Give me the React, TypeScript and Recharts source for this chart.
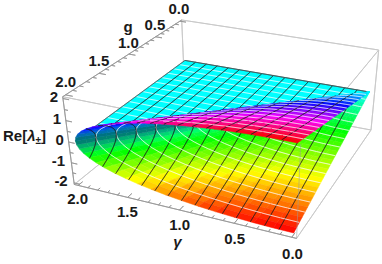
import React from "react";
import { ScatterChart, Scatter, XAxis, YAxis } from "recharts";

// mesh rings of the cone, values of g
const gValues = [
  0, 0.0625, 0.125, 0.1875, 0.25, 0.3125, 0.375, 0.4375, 0.5, 0.5625, 0.625, 0.6875, 0.75, 0.8125, 0.875, 0.9375, 1,
  1.0625, 1.125, 1.1875, 1.25, 1.3125, 1.375, 1.4375, 1.5, 1.5625, 1.625, 1.6875, 1.75, 1.8125, 1.875, 1.9375, 2,
];
// profile of the sheets: gamma / g and |Re lambda| / g along each ray
const gammaOverG = [1, 0.9962, 0.9848, 0.9659, 0.9397, 0.9063, 0.866, 0.8192, 0.766, 0.7071, 0.6428, 0.5736, 0.5, 0.4226, 0.342, 0.2588, 0.1736, 0.0872, 0];
const lambdaOverG = [0, 0.0872, 0.1736, 0.2588, 0.342, 0.4226, 0.5, 0.5736, 0.6428, 0.7071, 0.766, 0.8192, 0.866, 0.9063, 0.9397, 0.9659, 0.9848, 0.9962, 1];
const meshValues = [0.125, 0.25, 0.375, 0.5, 0.625, 0.75, 0.875, 1, 1.125, 1.25, 1.375, 1.5, 1.625, 1.75, 1.875];
const sheetSigns = [1, -1];

const axisTicks = [0, 0.1, 0.2, 0.3, 0.4, 0.5, 0.6, 0.7, 0.8, 0.9, 1, 1.1, 1.2, 1.3, 1.4, 1.5, 1.6, 1.7, 1.8, 1.9, 2];
const zTicks = [-2, -1.5, -1, -0.5, 0, 0.5, 1, 1.5, 2];
const gLabels = ["0.0", "0.5", "1.0", "1.5", "2.0"];
const gammaLabels = ["2.0", "1.5", "1.0", "0.5", "0.0"];
const zLabels = ["2", "1", "0", "-1", "-2"];

const WIDTH = 382;
const HEIGHT = 264;
const FONT = "'Liberation Sans', Arial, sans-serif";

type P3 = [number, number, number];
type Item = { pts: { x: number; y: number }[]; depth: number; fill?: string; stroke: string; sw: number; op?: number };

// camera fitted on the corners of the box
const project = ([gamma, g, z]: P3) => {
  const u = (gamma + 0.04) / 2.08;
  const v = (g + 0.04) / 2.08;
  const d = (2.08 - z) / 4.16;
  const w = 1 + 0.09353 * u - 0.21903 * v + 0.06 * d;
  return {
    x: (378.7 - 180 * u - 143.86 * v + 14.56 * d) / w,
    y: (50 - 28.13 * u + 62.7 * v + 87.8 * d) / w,
    w,
  };
};

const polygon = (p3: P3[], style: Omit<Item, "pts" | "depth">, shift = 0): Item => {
  const ps = p3.map(project);
  return {
    pts: ps.map((p) => ({ x: p.x, y: p.y })),
    depth: ps.reduce((a, p) => a + p.w, 0) / ps.length - shift,
    ...style,
  };
};

const hue = (z: number, b: number) => `hsl(${((z + 2) / 4) * 360},100%,${50 * b}%)`;

const area = (pts: { x: number; y: number }[]) => {
  let s = 0;
  pts.forEach((p, i) => {
    const q = pts[(i + 1) % pts.length];
    s += p.x * q.y - q.x * p.y;
  });
  return s;
};

const LINE_SHIFT = 0.009;
const blackLine = { stroke: "#1c1c1c", sw: 0.7, op: 0.75 };
const whiteLine = { stroke: "#ffffff", sw: 0.6, op: 0.75 };
const boxLine = { stroke: "#c8c8c8", sw: 0.9 };
const axisLine = { stroke: "#969696", sw: 0.8 };

const rayPoint = (g: number, j: number, sign: number): P3 => [g * gammaOverG[j], g, sign * g * lambdaOverG[j]];

const buildBack = (): Item[] => {
  const out: Item[] = [];
  const lo = -0.04;
  const hi = 2.04;
  const zm = 2.08;
  const edges: P3[][] = [
    [[hi, lo, zm], [lo, lo, zm]],
    [[lo, lo, zm], [lo, lo, -zm]],
    [[hi, lo, zm], [hi, lo, -zm]],
    [[hi, lo, -zm], [lo, lo, -zm]],
    [[hi, lo, -zm], [hi, hi, -zm]],
    [[lo, lo, -zm], [lo, hi, -zm]],
    [[lo, lo, zm], [lo, hi, zm]],
    [[hi, hi, zm], [lo, hi, zm]],
  ];
  edges.forEach((e) => out.push(polygon(e, boxLine)));
  out.push(polygon([[hi, lo, zm], [hi, hi, zm]], axisLine));
  out.push(polygon([[hi, hi, zm], [hi, hi, -zm]], axisLine));
  out.push(polygon([[hi, hi, -zm], [lo, hi, -zm]], axisLine));
  axisTicks.forEach((t, i) => {
    const len = i % 5 === 0 ? 0.07 : 0.04;
    out.push(polygon([[hi, t, zm], [hi - len, t, zm]], axisLine));
    out.push(polygon([[t, hi, -zm], [t, hi - len, -zm]], axisLine));
  });
  zTicks.forEach((t, i) => {
    const len = i % 2 === 0 ? 0.06 : 0.035;
    out.push(polygon([[hi, hi, t], [hi - len, hi, t]], axisLine));
  });

  // flat part of the spectrum, Re = 0 for g < gamma
  out.push(polygon([[0, 0, 0], [2, 0, 0], [2, 2, 0]], { fill: hue(0, 1), stroke: "none", sw: 0 }));
  meshValues.forEach((m) => {
    out.push(polygon([[m, 0, 0], [m, m, 0]], blackLine));
    out.push(polygon([[m, m, 0], [2, m, 0]], whiteLine));
  });
  out.push(polygon([[0, 0, 0], [2, 0, 0]], { stroke: "#3c5a5a", sw: 0.8 }));
  out.push(polygon([[2, 0, 0], [2, 2, 0]], { stroke: "#3c5a5a", sw: 0.6 }));
  return out;
};

const buildCone = (): Item[] => {
  const out: Item[] = [];
  const refPts = [rayPoint(1.5, 16, 1), rayPoint(1.6, 16, 1), rayPoint(1.6, 17, 1), rayPoint(1.5, 17, 1)].map(project);
  const topSign = Math.sign(area(refPts));

  sheetSigns.forEach((sign) => {
    for (let k = 0; k < gValues.length - 1; k++) {
      for (let j = 0; j < gammaOverG.length - 1; j++) {
        const g0 = gValues[k];
        const g1 = gValues[k + 1];
        const quad = [rayPoint(g0, j, sign), rayPoint(g1, j, sign), rayPoint(g1, j + 1, sign), rayPoint(g0, j + 1, sign)];
        const sm = (lambdaOverG[j] + lambdaOverG[j + 1]) / 2;
        const zc = sign * sm * (g0 + g1) / 2;
        const facing = Math.sign(area(quad.map(project))) * sign === topSign;
        // top of the upper sheet stays bright, steep undersides go dark
        const b = facing ? Math.min(1, 0.85 + 0.6 * sm) : Math.min(1, 0.42 + 2 * sm);
        const col = hue(zc, b);
        out.push(polygon(quad, { fill: col, stroke: col, sw: 0.5 }));
      }
    }
    // lines of constant g
    meshValues.forEach((m) => {
      for (let j = 0; j < gammaOverG.length - 1; j++) {
        out.push(polygon([rayPoint(m, j, sign), rayPoint(m, j + 1, sign)], whiteLine, LINE_SHIFT));
      }
    });
    // lines of constant gamma, cut at g = 2
    meshValues.forEach((m) => {
      const chain: P3[] = [];
      for (let j = 0; j < gammaOverG.length - 1; j++) {
        const g = m / gammaOverG[j];
        if (g <= 2) chain.push([m, g, sign * g * lambdaOverG[j]]);
        else {
          const c0 = gammaOverG[j - 1];
          const c1 = gammaOverG[j];
          const t = (c0 - m / 2) / (c0 - c1);
          chain.push([m, 2, sign * 2 * (lambdaOverG[j - 1] + t * (lambdaOverG[j] - lambdaOverG[j - 1]))]);
          break;
        }
        if (j === gammaOverG.length - 2) {
          const c0 = gammaOverG[j];
          const t = (c0 - m / 2) / c0;
          chain.push([m, 2, sign * 2 * (lambdaOverG[j] + t * (lambdaOverG[j + 1] - lambdaOverG[j]))]);
        }
      }
      for (let i = 0; i < chain.length - 1; i++) {
        const a = chain[i];
        const b = chain[i + 1];
        const parts = Math.max(1, Math.ceil(Math.abs(b[1] - a[1]) / 0.12));
        for (let q = 0; q < parts; q++) {
          const at = (f: number): P3 => [a[0], a[1] + f * (b[1] - a[1]), a[2] + f * (b[2] - a[2])];
          out.push(polygon([at(q / parts), at((q + 1) / parts)], blackLine, LINE_SHIFT));
        }
      }
    });
  });
  return out.sort((a, b) => b.depth - a.depth);
};

const nearEdge = polygon([[-0.04, 2.04, 2.08], [-0.04, 2.04, -2.08]], { stroke: "#9a9a9a", sw: 0.9, op: 0.35 });
const items: Item[] = [...buildBack(), ...buildCone(), nearEdge];
const drawPoints = items.flatMap((it) => it.pts);

// labels hang off their tick by a small offset
const gLabelPoints = gLabels.map((text, i) => {
  const p = project([2.04, i * 0.5, 2.08]);
  return { x: p.x - 1 + i * 0.3, y: p.y - 13 + (i === 1 || i === 2 ? 1 : 0), text };
});
const gammaLabelPoints = gammaLabels.map((text, i) => {
  const p = project([2 - i * 0.5, 2.04, -2.08]);
  return { x: p.x - 0.5 + i * 0.3, y: p.y + 13 + i * 0.8, text };
});
const zLabelPoints = zLabels.map((text, i) => {
  const p = project([2.04, 2.04, 2 - i]);
  return { x: p.x - (text.length > 1 ? 13 : 9), y: p.y - 2.5, text };
});
const axisNames = [
  { x: 128, y: 26, text: "g", italic: false },
  { x: 177.5, y: 241, text: "\u03b3", italic: true },
];
const labelPoints = [...gLabelPoints, ...gammaLabelPoints, ...zLabelPoints, ...axisNames];

const drawItems = ({ points }: { points: { x: number; y: number }[] }) => {
  let at = 0;
  return (
    <g>
      {items.map((it, i) => {
        const pts = points.slice(at, at + it.pts.length);
        at += it.pts.length;
        return (
          <polygon
            key={i}
            points={pts.map((p) => `${p.x.toFixed(2)},${p.y.toFixed(2)}`).join(" ")}
            fill={it.fill ?? "none"}
            stroke={it.stroke}
            strokeWidth={it.sw}
            strokeOpacity={it.op ?? 1}
          />
        );
      })}
    </g>
  );
};

const LabelShape = (props: any) => (
  <text
    x={props.cx}
    y={props.cy}
    textAnchor="middle"
    dominantBaseline="central"
    fontFamily={FONT}
    fontWeight="bold"
    fontSize={15}
    fontStyle={props.payload.italic ? "italic" : "normal"}
    fill="#1a1a1a"
  >
    {props.payload.text}
  </text>
);

const NoSymbol = () => <g />;

export default function App() {
  return (
    <div style={{ position: "absolute", left: 0, top: 0, width: WIDTH, height: HEIGHT }}>
      <ScatterChart width={WIDTH} height={HEIGHT} margin={{ top: 0, right: 0, bottom: 0, left: 0 }}>
        <XAxis type="number" dataKey="x" domain={[0, WIDTH]} hide />
        <YAxis type="number" dataKey="y" domain={[0, HEIGHT]} reversed hide />
        <Scatter data={drawPoints} line={drawItems as any} shape={NoSymbol as any} isAnimationActive={false} />
        <Scatter data={labelPoints} shape={LabelShape} isAnimationActive={false} />
        <text x={3} y={141} fontFamily={FONT} fontWeight="bold" fontSize={15} fill="#1a1a1a">
          Re[<tspan fontStyle="italic">{"\u03bb"}</tspan>
          <tspan fontSize={10} dy={3}>{"\u00b1"}</tspan>
          <tspan dy={-3}>]</tspan>
        </text>
      </ScatterChart>
    </div>
  );
}
